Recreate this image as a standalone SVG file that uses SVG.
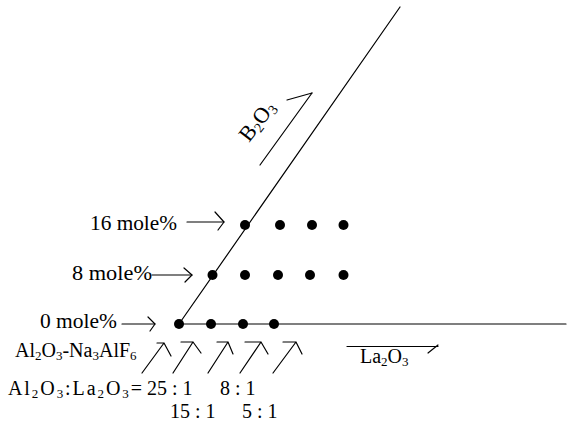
<svg xmlns="http://www.w3.org/2000/svg" width="571" height="430" viewBox="0 0 571 430">
<style>
  text { font-family: "Liberation Serif", "Times New Roman", serif; font-size: 20px; fill: #000; }
  .sub { font-size: 13px; }
  .ln { stroke: #000; stroke-width: 1.2; fill: none; stroke-linecap: round; stroke-linejoin: round; }
  .dot { fill: #000; }
</style>
<rect width="571" height="430" fill="#fff"/>
<g id="connectors">
  <line class="ln" x1="179" y1="324" x2="400" y2="7"/>
  <line class="ln" x1="179" y1="324" x2="566" y2="324"/>
  <!-- label arrows -->
  <line class="ln" x1="187" y1="222" x2="224" y2="222"/>
  <polyline class="ln" points="215,212 224,222 218,230"/>
  <line class="ln" x1="152" y1="275" x2="192" y2="275"/>
  <polyline class="ln" points="184,268 192,275 185,282"/>
  <line class="ln" x1="122" y1="324" x2="155" y2="324"/>
  <polyline class="ln" points="148,317 155,324 150,331"/>
  <!-- B2O3 harpoon -->
  <line class="ln" x1="260" y1="165" x2="312" y2="93"/>
  <line class="ln" x1="312" y1="93" x2="287" y2="100"/>
  <!-- La2O3 harpoon -->
  <line class="ln" x1="347" y1="346.5" x2="438" y2="346.5"/>
  <line class="ln" x1="438" y1="345" x2="428" y2="353"/>
  <!-- composition arrows -->
  <g id="comp-arrows">
    <path class="ln" d="M142,373 L164,343 M157,343 L164,343 L171,356"/>
    <path class="ln" d="M173,373 L193,342 M181,342 L193,342 L201,353"/>
    <path class="ln" d="M208,373 L228,342 M217,342 L228,342 L233,354"/>
    <path class="ln" d="M240,373 L261,342 M245,342 L261,342 L268,354"/>
    <path class="ln" d="M273,373 L296,342 M283,342 L296,342 L302,354"/>
  </g>
</g>
<g id="row-0">
  <circle class="dot" cx="179" cy="324" r="5"/>
  <circle class="dot" cx="211" cy="324" r="5"/>
  <circle class="dot" cx="243" cy="324" r="5"/>
  <circle class="dot" cx="274" cy="324" r="5"/>
</g>
<g id="row-8">
  <circle class="dot" cx="212.5" cy="275" r="5"/>
  <circle class="dot" cx="245" cy="275" r="5"/>
  <circle class="dot" cx="278" cy="275" r="5"/>
  <circle class="dot" cx="310" cy="275" r="5"/>
  <circle class="dot" cx="343.5" cy="275" r="5"/>
</g>
<g id="row-16">
  <circle class="dot" cx="245" cy="225" r="5"/>
  <circle class="dot" cx="280" cy="225" r="5"/>
  <circle class="dot" cx="312" cy="225" r="5"/>
  <circle class="dot" cx="343.5" cy="225" r="5"/>
</g>
<g id="labels">
  <text x="90" y="230" textLength="87" lengthAdjust="spacingAndGlyphs">16 mole%</text>
  <text x="72" y="280" textLength="80" lengthAdjust="spacingAndGlyphs">8 mole%</text>
  <text x="40" y="328" textLength="77" lengthAdjust="spacingAndGlyphs">0 mole%</text>
  <text x="15" y="357">Al<tspan class="sub" dy="3">2</tspan><tspan dy="-3">O</tspan><tspan class="sub" dy="3">3</tspan><tspan dy="-3">-Na</tspan><tspan class="sub" dy="3">3</tspan><tspan dy="-3">AlF</tspan><tspan class="sub" dy="3">6</tspan></text>
  <text x="8" y="395" textLength="134" lengthAdjust="spacing">Al<tspan class="sub" dy="3">2</tspan><tspan dy="-3">O</tspan><tspan class="sub" dy="3">3</tspan><tspan dy="-3">:La</tspan><tspan class="sub" dy="3">2</tspan><tspan dy="-3">O</tspan><tspan class="sub" dy="3">3</tspan><tspan dy="-3">=</tspan></text>
  <text x="147" y="395">25 : 1</text>
  <text x="220" y="395">8 : 1</text>
  <text x="170" y="418">15 : 1</text>
  <text x="242" y="418">5 : 1</text>
  <text x="360" y="363">La<tspan class="sub" dy="3">2</tspan><tspan dy="-3">O</tspan><tspan class="sub" dy="3">3</tspan></text>
  <text transform="translate(249,143) rotate(-52)" x="0" y="0" style="font-size:22px">B<tspan class="sub" dy="3" style="font-size:14px">2</tspan><tspan dy="-3">O</tspan><tspan class="sub" dy="3" style="font-size:14px">3</tspan></text>
</g>
</svg>
